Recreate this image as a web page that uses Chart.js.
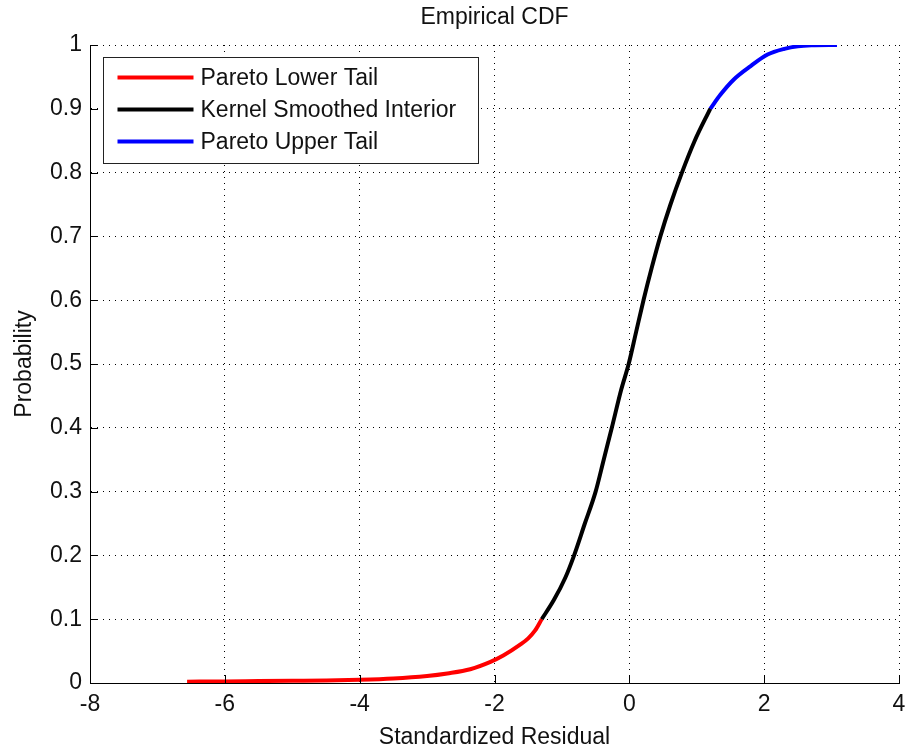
<!DOCTYPE html>
<html>
<head>
<meta charset="utf-8">
<script src="https://cdn.jsdelivr.net/npm/chart.js@4"></script>
<style>
  html, body { margin: 0; padding: 0; background: #fff; }
  #wrap { width: 906px; height: 751px; }
</style>
</head>
<body>
<div id="wrap"><canvas id="cdfChart" width="906" height="751"></canvas></div>
<script>
// ticks and their labels
const xTickValues = [-8, -6, -4, -2, 0, 2, 4];
const xTickLabels = ['-8', '-6', '-4', '-2', '0', '2', '4'];
const yTickValues = [0, 0.1, 0.2, 0.3, 0.4, 0.5, 0.6, 0.7, 0.8, 0.9, 1];
const yTickLabels = ['0', '0.1', '0.2', '0.3', '0.4', '0.5', '0.6', '0.7', '0.8', '0.9', '1'];

// series labels
const seriesNames = ['Pareto Lower Tail', 'Kernel Smoothed Interior', 'Pareto Upper Tail'];

// lower tail
const lowerX = [-6.56, -6.0, -5.5, -5.0, -4.5, -4.0, -3.5, -3.0, -2.7, -2.36, -2.06, -1.87, -1.62, -1.50, -1.40, -1.30];
const lowerY = [0.002, 0.0025, 0.003, 0.0035, 0.004, 0.005, 0.007, 0.011, 0.015, 0.0215, 0.033, 0.043, 0.060, 0.070, 0.082, 0.10];

// kernel smoothed interior
const interiorX = [-1.30, -1.12, -0.95, -0.83, -0.66, -0.50, -0.38, -0.26, -0.12, -0.01, 0.10, 0.21, 0.33, 0.46, 0.61, 0.78, 0.97, 1.20];
const interiorY = [0.10, 0.13, 0.165, 0.197, 0.25, 0.30, 0.35, 0.40, 0.46, 0.50, 0.55, 0.60, 0.65, 0.70, 0.75, 0.80, 0.85, 0.90];

// upper tail
const upperX = [1.20, 1.35, 1.55, 1.80, 2.05, 2.30, 2.50, 2.70, 3.08];
const upperY = [0.90, 0.922, 0.946, 0.967, 0.985, 0.994, 0.998, 0.9995, 1.0];

const textColor = '#111';
const fontFamily = '"Liberation Sans", Arial, sans-serif';
const fontSize = 23;

function toPoints(xs, ys) {
  return xs.map((x, i) => ({ x: x, y: ys[i] }));
}

function makeSet(label, xs, ys, color) {
  return {
    label: label,
    data: toPoints(xs, ys),
    borderColor: color,
    backgroundColor: color,
    borderWidth: 4,
    pointRadius: 0,
    showLine: true,
    cubicInterpolationMode: 'monotone'
  };
}

// inward tick marks, matlab style
const innerTicks = {
  id: 'innerTicks',
  afterDraw(chart) {
    const ctx = chart.ctx;
    const area = chart.chartArea;
    const xs = chart.scales.x, ys = chart.scales.y;
    ctx.save();
    ctx.strokeStyle = '#000';
    ctx.lineWidth = 1;
    ctx.beginPath();
    xs.ticks.forEach(t => {
      const px = Math.round(xs.getPixelForValue(t.value)) + 0.5;
      ctx.moveTo(px, area.bottom);
      ctx.lineTo(px, area.bottom - 8);
    });
    ys.ticks.forEach(t => {
      const py = Math.round(ys.getPixelForValue(t.value)) + 0.5;
      ctx.moveTo(area.left, py);
      ctx.lineTo(area.left + 8, py);
    });
    ctx.stroke();
    ctx.restore();
  }
};

// boxed legend inside the axes
const boxLegend = {
  id: 'boxLegend',
  afterDraw(chart) {
    const ctx = chart.ctx;
    const area = chart.chartArea;
    const left = Math.round(area.left + 13) + 0.5;
    const top = Math.round(area.top + 12) + 0.5;
    ctx.save();
    ctx.fillStyle = '#fff';
    ctx.fillRect(left, top, 375, 106);
    ctx.strokeStyle = '#222';
    ctx.lineWidth = 1;
    ctx.strokeRect(left, top, 375, 106);
    ctx.font = fontSize + 'px ' + fontFamily;
    ctx.textBaseline = 'middle';
    chart.data.datasets.forEach((ds, i) => {
      const y = top + 20 + i * 32;
      ctx.strokeStyle = ds.borderColor;
      ctx.lineWidth = 4;
      ctx.beginPath();
      ctx.moveTo(left + 14, y);
      ctx.lineTo(left + 90, y);
      ctx.stroke();
      ctx.fillStyle = textColor;
      ctx.fillText(ds.label, left + 97, y + 1);
    });
    ctx.restore();
  }
};

const ctx = document.getElementById('cdfChart').getContext('2d');
new Chart(ctx, {
  type: 'scatter',
  data: {
    datasets: [
      makeSet(seriesNames[0], lowerX, lowerY, '#ff0000'),
      makeSet(seriesNames[1], interiorX, interiorY, '#000000'),
      makeSet(seriesNames[2], upperX, upperY, '#0000ff')
    ]
  },
  options: {
    responsive: false,
    animation: false,
    layout: { padding: { top: 0, left: 0, right: 0, bottom: 0 } },
    plugins: {
      legend: { display: false },
      tooltip: { enabled: false },
      title: {
        display: true,
        text: 'Empirical CDF',
        fullSize: false,
        color: textColor,
        font: { family: fontFamily, size: fontSize, weight: 'normal' },
        padding: { top: 4, bottom: 13.4 }
      }
    },
    scales: {
      x: {
        type: 'linear',
        min: -8,
        max: 4,
        afterBuildTicks: s => { s.ticks = xTickValues.map(v => ({ value: v })); },
        afterFit: s => { s.height = 68; s.paddingRight = 7; },
        ticks: {
          color: textColor,
          padding: 8,
          maxRotation: 0,
          font: { family: fontFamily, size: fontSize },
          callback: (v, i) => xTickLabels[i]
        },
        grid: { color: '#000', lineWidth: 1, drawTicks: false },
        border: { display: true, color: '#000', width: 1, dash: [1, 5] },
        title: {
          display: true,
          text: 'Standardized Residual',
          color: textColor,
          font: { family: fontFamily, size: fontSize },
          padding: { top: 0, bottom: 0 }
        }
      },
      y: {
        type: 'linear',
        min: 0,
        max: 1,
        afterBuildTicks: s => { s.ticks = yTickValues.map(v => ({ value: v })); },
        afterFit: s => { s.width = 90; },
        ticks: {
          color: textColor,
          padding: 8,
          font: { family: fontFamily, size: fontSize },
          callback: (v, i) => yTickLabels[i]
        },
        grid: { color: '#000', lineWidth: 1, drawTicks: false },
        border: { display: true, color: '#000', width: 1, dash: [1, 5] },
        title: {
          display: true,
          text: 'Probability',
          color: textColor,
          font: { family: fontFamily, size: fontSize },
          padding: { top: 11, bottom: 0 }
        }
      }
    }
  },
  plugins: [innerTicks, boxLegend]
});
</script>
</body>
</html>
